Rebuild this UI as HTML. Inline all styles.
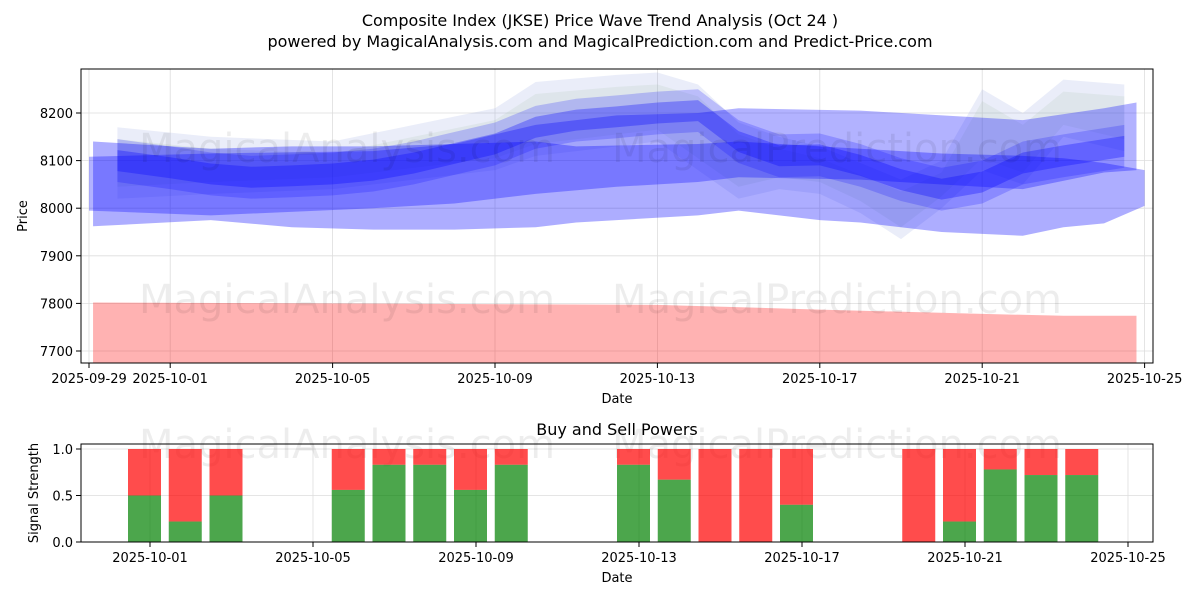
<!DOCTYPE html>
<html><head><meta charset="utf-8"><style>
body{margin:0;background:#fff;font-family:"Liberation Sans","DejaVu Sans",sans-serif;}
svg text{font-family:"DejaVu Sans","Liberation Sans",sans-serif;}
</style></head><body>
<svg id="c" width="1200" height="600" xmlns="http://www.w3.org/2000/svg">
<text x="600" y="26" text-anchor="middle" font-size="16">Composite Index (JKSE) Price Wave Trend Analysis (Oct 24 )</text>
<text x="600" y="47" text-anchor="middle" font-size="16">powered by MagicalAnalysis.com and MagicalPrediction.com and Predict-Price.com</text>
<g id="gtop"></g><g id="gbot"></g>
</svg>
<script>
// ---- data ----
const dayLabels=["2025-09-29","2025-10-01","2025-10-05","2025-10-09","2025-10-13","2025-10-17","2025-10-21","2025-10-25"];
const dayTicks=[0,2,6,10,14,18,22,26];
const priceTicks=[7700,7800,7900,8000,8100,8200];
const wideDays=[0.1,3,5,7,9,11,12,15,16,18,19,21,23,24,25,26];
const wideUp=[8140,8125,8130,8130,8135,8140,8130,8135,8140,8130,8125,8115,8110,8105,8095,8080];
const wideLo=[7962,7975,7960,7955,7955,7960,7970,7985,7995,7975,7970,7950,7942,7960,7968,8005];
const midDays=[0,3,7,9,11,13,15,16,19,23,25,25.8];
const midUp=[8108,8115,8120,8135,8175,8195,8200,8210,8205,8185,8210,8222];
const midLo=[7995,7985,8000,8010,8030,8045,8055,8065,8060,8040,8075,8080];
const waveDays=[0.7,2,3,4,5,6,7,8,9,10,11,12,13,14,15,16,17,18,19,20,21,22,23,24,25.5];
const waveVal=[8100,8085,8072,8065,8068,8072,8080,8095,8115,8135,8170,8185,8192,8200,8205,8140,8110,8112,8090,8060,8040,8055,8095,8110,8130];
const faintDays=[0.7,3,6,8,10,11,13,14,15,16,17,18,19,20,21,22,23,24,25.5];
const faintUp=[8170,8150,8140,8175,8210,8265,8280,8285,8260,8180,8150,8130,8095,8060,8100,8250,8200,8270,8260];
const faintLo=[8020,8030,8040,8060,8080,8110,8130,8140,8080,8020,8040,8030,7990,7935,8000,8080,8050,8150,8120];
const redDays=[0.1,14,18,22,24,25.8];
const redTop=[7802,7797,7787,7778,7774,7774];
const barDays=[2,3,4,7,8,9,10,11,14,15,16,17,18,21,22,23,24,25];
const buyVals=[0.5,0.22,0.5,0.56,0.83,0.83,0.56,0.83,0.83,0.67,0,0,0.4,0,0.22,0.78,0.72,0.72];
const sigTicks=[0,0.5,1];
// ---- scales ----
const NS="http://www.w3.org/2000/svg";
const X=d=>89+d*40.6, Y=v=>113+(8200-v)*0.476;
const XB=d=>150+(d-2)*40.75, YB=v=>542-v*93;
function mk(tag,attrs,parent,txt){const e=document.createElementNS(NS,tag);for(const k in attrs)e.setAttribute(k,attrs[k]);if(txt!==undefined)e.textContent=txt;parent.appendChild(e);return e;}
const gTop=document.getElementById('gtop'), gBot=document.getElementById('gbot');
dayTicks.forEach((d,i)=>{const l=mk('line',{x1:X(d),x2:X(d),y1:69,y2:363,stroke:'#ddd','stroke-width':0.8},gTop);

const t=mk('text',{x:X(d),y:383,'text-anchor':'middle','font-size':13},gTop,dayLabels[i]);

mk('line',{x1:X(d),x2:X(d),y1:363,y2:368,stroke:'#000'},gTop);});
priceTicks.forEach(v=>{const l=mk('line',{x1:81,x2:1153,y1:Y(v),y2:Y(v),stroke:'#ddd','stroke-width':0.8},gTop);

const t=mk('text',{x:73,y:Y(v)+5,'text-anchor':'end','font-size':13},gTop,v);

mk('line',{x1:76,x2:81,y1:Y(v),y2:Y(v),stroke:'#000'},gTop);});
function band(days,up,lo,fill,op,name){let p=days.map((d,i)=>X(d)+','+Y(up[i]));
for(let i=days.length-1;i>=0;i--)p.push(X(days[i])+','+Y(lo[i]));
const e=mk('polygon',{points:p.join(' '),fill:fill,'fill-opacity':op},gTop);
}
band(redDays,redTop,redDays.map(()=>7675),'#ff0000',0.3,'red-band');
band(faintDays,faintUp,faintLo,'#8899dd',0.18,'faint-band');
band(faintDays,faintUp.map(v=>v-25),faintLo.map(v=>v+25),'#99bb99',0.15,'green-band');
band(wideDays,wideUp,wideLo,'#0000ff',0.32,'wide-band');
band(midDays,midUp,midLo,'#0000ff',0.3,'mid-band');
band(waveDays,waveVal.map(v=>v+45),waveVal.map(v=>v-45),'#0000ff',0.2,'wave-band-outer');
band(waveDays,waveVal.map(v=>v+22),waveVal.map(v=>v-22),'#0000ff',0.3,'wave-band-inner');
const w1=mk('text',{x:347,y:162,'font-size':40,fill:'#000','fill-opacity':0.07,'text-anchor':'middle'},gTop,'MagicalAnalysis.com');
const w2=mk('text',{x:837,y:162,'font-size':40,fill:'#000','fill-opacity':0.07,'text-anchor':'middle'},gTop,'MagicalPrediction.com');
const w3=mk('text',{x:347,y:313,'font-size':40,fill:'#000','fill-opacity':0.07,'text-anchor':'middle'},gTop,'MagicalAnalysis.com');
const w4=mk('text',{x:837,y:313,'font-size':40,fill:'#000','fill-opacity':0.07,'text-anchor':'middle'},gTop,'MagicalPrediction.com');
const f1=mk('rect',{x:81,y:69,width:1072,height:294,fill:'none',stroke:'#000'},gTop);
const xt=mk('text',{x:617,y:403,'text-anchor':'middle','font-size':13},gTop,'Date');
const yt=mk('text',{x:27,y:216,'text-anchor':'middle','font-size':13,transform:'rotate(-90 27 216)'},gTop,'Price');
const bt=mk('text',{x:617,y:435,'text-anchor':'middle','font-size':16},gBot,'Buy and Sell Powers');
[2,6,10,14,18,22,26].forEach((d,i)=>{mk('line',{x1:XB(d),x2:XB(d),y1:444,y2:542,stroke:'#ddd','stroke-width':0.8},gBot);
mk('line',{x1:XB(d),x2:XB(d),y1:542,y2:547,stroke:'#000'},gBot);
const t=mk('text',{x:XB(d),y:562,'text-anchor':'middle','font-size':13},gBot,dayLabels[i+1]);
});
sigTicks.forEach(v=>{mk('line',{x1:81,x2:1153,y1:YB(v),y2:YB(v),stroke:'#ddd','stroke-width':0.8},gBot);
mk('line',{x1:76,x2:81,y1:YB(v),y2:YB(v),stroke:'#000'},gBot);
const t=mk('text',{x:73,y:YB(v)+5,'text-anchor':'end','font-size':13},gBot,v.toFixed(1));
});
const w5=mk('text',{x:347,y:458,'font-size':40,fill:'#000','fill-opacity':0.07,'text-anchor':'middle'},gBot,'MagicalAnalysis.com');
const w6=mk('text',{x:837,y:458,'font-size':40,fill:'#000','fill-opacity':0.07,'text-anchor':'middle'},gBot,'MagicalPrediction.com');
barDays.forEach((d,i)=>{const x=XB(d)-5.5-16.5;
const s=mk('rect',{x:x,y:YB(1),width:33,height:YB(buyVals[i])-YB(1),fill:'#ff0000','fill-opacity':0.7},gBot);

const b=mk('rect',{x:x,y:YB(buyVals[i]),width:33,height:YB(0)-YB(buyVals[i]),fill:'#008000','fill-opacity':0.7},gBot);
});
const f2=mk('rect',{x:81,y:444,width:1072,height:98,fill:'none',stroke:'#000'},gBot);
const xt2=mk('text',{x:617,y:582,'text-anchor':'middle','font-size':13},gBot,'Date');
const yt2=mk('text',{x:38,y:493,'text-anchor':'middle','font-size':13,transform:'rotate(-90 38 493)'},gBot,'Signal Strength');
</script>
</body></html>
